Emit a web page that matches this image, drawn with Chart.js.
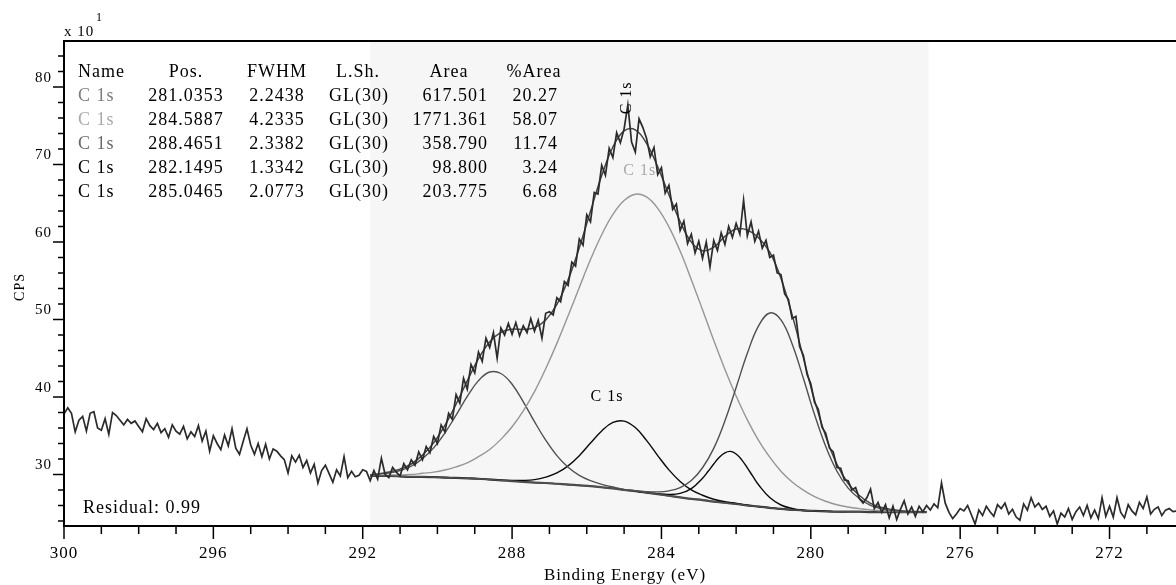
<!DOCTYPE html>
<html>
<head>
<meta charset="utf-8">
<title>C 1s XPS fit</title>
<script src="https://cdn.jsdelivr.net/npm/chart.js@4.4.1/dist/chart.umd.min.js"></script>
<style>
  html, body { margin: 0; padding: 0; background: #fff; }
  canvas { display: block; }
</style>
</head>
<body>
<canvas id="xps-chart" width="1176" height="585"></canvas>
<script>
"use strict";

// raw spectrum, 300.0 eV down to 270.2 eV in 0.1 eV steps (CPS / 10)
const rawStart = 300;
const rawStep = 0.1;
const rawCounts = [
  37.8, 38.6, 37.9, 35.5, 37.0, 37.5, 35.6, 37.9, 38.1, 36.0,
  35.7, 37.2, 35.2, 38.0, 37.6, 37.0, 36.4, 37.1, 36.6, 36.9,
  36.2, 35.5, 37.2, 36.3, 35.8, 36.6, 35.4, 35.9, 34.8, 36.4,
  35.6, 35.2, 36.2, 34.6, 35.5, 34.9, 36.3, 34.3, 35.6, 33.0,
  35.0, 34.0, 33.2, 35.1, 33.7, 35.9, 33.4, 32.6, 34.3, 35.9,
  33.8, 32.6, 34.0, 32.3, 33.9, 32.0, 33.3, 33.0, 32.4, 31.9,
  30.2, 32.4, 31.6, 32.5, 30.9, 31.8, 30.2, 31.3, 28.9, 30.5,
  31.2, 30.1, 29.0, 30.6, 29.8, 32.3, 29.6, 30.4, 29.7, 29.9,
  30.6, 30.4, 29.2, 30.5, 29.4, 32.1, 30.0, 29.6, 30.9, 30.3,
  29.8, 31.4, 30.6, 31.9, 31.2, 32.9, 31.9, 33.6, 32.8, 34.9,
  34.0, 36.4, 35.5, 37.9, 37.1, 40.3, 39.2, 42.4, 41.0, 44.2,
  43.1, 45.8, 44.6, 47.6, 46.4, 48.3, 45.0, 48.9, 48.0, 49.5,
  48.1, 49.6, 47.9, 49.2, 48.3, 50.1, 48.5, 49.9, 47.6, 50.8,
  51.0, 50.6, 52.8, 52.3, 54.9, 54.4, 57.4, 56.9, 60.4, 59.6,
  63.5, 62.6, 66.4, 66.2, 69.9, 68.6, 72.1, 70.9, 74.1, 72.8,
  74.6, 77.7, 72.9, 71.6, 75.9, 74.8, 73.4, 71.0, 72.2, 68.7,
  69.6, 66.3, 67.3, 64.2, 64.9, 61.5, 62.7, 59.8, 61.0, 58.6,
  60.1, 57.9, 60.0, 56.8, 60.2, 58.9, 61.2, 59.7, 62.0, 60.6,
  62.4, 61.0, 65.4, 60.8, 62.6, 60.1, 61.4, 59.2, 60.2, 58.0,
  58.3, 56.0, 55.8, 53.3, 52.6, 50.1, 50.4, 46.5, 45.4, 42.9,
  41.7, 39.3, 38.4, 36.1, 35.3, 33.4, 32.9, 30.9, 30.8, 29.3,
  29.2, 28.0, 28.3, 26.9, 26.3, 27.0, 28.1, 25.6, 26.4, 25.1,
  26.1, 24.4, 25.9, 24.2, 25.5, 26.6, 24.9, 25.8, 24.6, 25.9,
  25.2, 26.0, 25.4, 26.2, 25.7, 28.9, 26.3, 25.1, 24.3, 24.9,
  25.6, 25.3, 26.0, 24.8, 23.6, 25.4, 24.7, 25.9, 25.2, 24.6,
  26.1, 25.6, 26.3, 24.9, 25.5, 24.5, 24.1, 26.2, 25.4, 27.0,
  25.8, 26.3, 25.5, 25.9, 24.6, 25.3, 23.6, 25.0, 24.5, 25.6,
  24.2, 25.2, 25.8, 24.7, 26.0, 24.4, 25.4, 24.3, 27.0, 24.6,
  25.9, 24.5, 27.0, 25.1, 24.4, 26.1, 25.3, 24.8, 26.4, 25.6,
  27.1, 24.9, 25.5, 25.8, 24.7, 25.4, 25.6, 25.2, 25.3
];

// fit region
const fitEnergy = [
  291.8, 291.6, 291.3, 291.0, 290.7, 290.4, 290.1, 289.8, 289.5, 289.2,
  288.9, 288.6, 288.3, 288.0, 287.7, 287.4, 287.1, 286.8, 286.5, 286.2,
  285.9, 285.6, 285.3, 285.0, 284.7, 284.4, 284.1, 283.8, 283.5, 283.2,
  282.9, 282.6, 282.3, 282.0, 281.7, 281.4, 281.1, 280.8, 280.5, 280.2,
  279.9, 279.6, 279.3, 279.0, 278.7, 278.4, 278.1, 277.8, 277.5, 277.2,
  276.9
];
const background = [
  29.8, 29.8, 29.8, 29.75, 29.7, 29.7, 29.65, 29.6, 29.55, 29.5,
  29.45, 29.35, 29.25, 29.15, 29.05, 28.95, 28.9, 28.8, 28.7, 28.6,
  28.5, 28.35, 28.2, 28.0, 27.85, 27.65, 27.45, 27.25, 27.05, 26.85,
  26.7, 26.5, 26.35, 26.2, 26.0, 25.85, 25.7, 25.55, 25.45, 25.35,
  25.3, 25.25, 25.2, 25.2, 25.2, 25.15, 25.15, 25.15, 25.15, 25.15,
  25.15
];
const envelope = [
  29.96, 30.07, 30.31, 30.69, 31.35, 32.5, 34.08, 36.33, 39.08, 42.08,
  44.95, 47.1, 48.34, 48.74, 48.73, 48.94, 49.93, 51.94, 55.11, 59.26,
  63.98, 68.57, 72.26, 74.34, 74.47, 72.73, 69.7, 66.11, 62.64, 59.98,
  58.87, 59.33, 60.72, 61.67, 61.54, 60.56, 58.69, 55.33, 50.6, 45.08,
  39.57, 34.9, 31.31, 28.84, 27.28, 26.28, 25.73, 25.44, 25.29, 25.22,
  25.18
];
// C 1s 281.0353
const peak1 = [
  29.8, 29.8, 29.8, 29.75, 29.7, 29.7, 29.65, 29.6, 29.55, 29.5,
  29.45, 29.35, 29.25, 29.15, 29.05, 28.95, 28.9, 28.8, 28.7, 28.6,
  28.5, 28.35, 28.21, 28.02, 27.91, 27.78, 27.75, 27.89, 28.3, 29.21,
  30.87, 33.37, 36.92, 41.23, 45.63, 49.17, 50.84, 49.95, 46.85, 42.41,
  37.73, 33.61, 30.42, 28.24, 26.89, 26.02, 25.56, 25.34, 25.23, 25.18,
  25.16
];
// C 1s 284.5887
const peak2 = [
  29.85, 29.87, 29.92, 29.93, 29.99, 30.15, 30.3, 30.58, 30.98, 31.51,
  32.29, 33.22, 34.53, 36.16, 38.22, 40.7, 43.65, 46.92, 50.47, 54.14,
  57.73, 60.94, 63.56, 65.35, 66.17, 65.83, 64.35, 61.96, 58.83, 55.14,
  51.26, 47.31, 43.56, 40.13, 37.04, 34.41, 32.23, 30.42, 29.03, 27.97,
  27.13, 26.54, 26.09, 25.8, 25.59, 25.41, 25.32, 25.25, 25.21, 25.19,
  25.17
];
// C 1s 288.4651
const peak3 = [
  29.91, 30.0, 30.19, 30.51, 31.06, 32.05, 33.43, 35.35, 37.65, 40.07,
  42.11, 43.22, 43.03, 41.65, 39.38, 36.81, 34.43, 32.43, 30.93, 29.89,
  29.2, 28.72, 28.38, 28.08, 27.89, 27.66, 27.46, 27.25, 27.05, 26.85,
  26.7, 26.5, 26.35, 26.2, 26.0, 25.85, 25.7, 25.55, 25.45, 25.35,
  25.3, 25.25, 25.2, 25.2, 25.2, 25.15, 25.15, 25.15, 25.15, 25.15,
  25.15
];
// C 1s 285.0465
const peak5 = [
  29.8, 29.8, 29.8, 29.75, 29.7, 29.7, 29.65, 29.6, 29.55, 29.5,
  29.46, 29.36, 29.28, 29.23, 29.23, 29.33, 29.65, 30.19, 31.11, 32.43,
  34.05, 35.61, 36.71, 36.89, 36.05, 34.4, 32.44, 30.59, 29.1, 28.01,
  27.32, 26.8, 26.49, 26.26, 26.02, 25.86, 25.7, 25.55, 25.45, 25.35,
  25.3, 25.25, 25.2, 25.2, 25.2, 25.15, 25.15, 25.15, 25.15, 25.15,
  25.15
];
// C 1s 282.1495 (narrow, own sampling)
const peak4Energy = [
  284.7, 284.4, 284.1, 283.8, 283.5, 283.2, 282.9, 282.75, 282.6, 282.45,
  282.3, 282.15, 282.0, 281.85, 281.7, 281.55, 281.4, 281.1, 280.8, 280.5,
  280.2, 279.9, 279.6
];
const peak4 = [
  27.85, 27.66, 27.5, 27.42, 27.56, 28.17, 29.52, 30.41, 31.35, 32.22,
  32.8, 32.98, 32.65, 31.89, 30.85, 29.74, 28.67, 27.02, 26.06, 25.62,
  25.4, 25.31, 25.25
];

const regionStart = 291.8;
const regionEnd = 276.85;

const xMajorTicks = [300, 296, 292, 288, 284, 280, 276, 272];
const yMajorTicks = [30, 40, 50, 60, 70, 80];

const tableHeader = ['Name', 'Pos.', 'FWHM', 'L.Sh.', 'Area', '%Area'];
const tableRows = [
  ['C 1s', '281.0353', '2.2438', 'GL(30)', '617.501', '20.27'],
  ['C 1s', '284.5887', '4.2335', 'GL(30)', '1771.361', '58.07'],
  ['C 1s', '288.4651', '2.3382', 'GL(30)', '358.790', '11.74'],
  ['C 1s', '282.1495', '1.3342', 'GL(30)', '98.800', '3.24'],
  ['C 1s', '285.0465', '2.0773', 'GL(30)', '203.775', '6.68']
];
const rowNameColors = ['#7d7d7d', '#a9a9a9', '#6a6a6a', '#000000', '#000000'];

const peakLabels = [
  { text: 'C 1s', x: 284.93, y: 78.6, rotate: true, color: '#000000' },
  { text: 'C 1s', x: 284.58, y: 69.2, rotate: false, color: '#a9a9a9' },
  { text: 'C 1s', x: 285.46, y: 40.0, rotate: false, color: '#000000' }
];

const SERIF = '"Liberation Serif", "Times New Roman", serif';

const rawEnergy = rawCounts.map((_, i) => +(rawStart - i * rawStep).toFixed(1));
const toPoints = (xs, ys) => ys.map((y, i) => ({ x: xs[i], y }));

function curve(label, xs, ys, color, width, tension) {
  return {
    label,
    data: toPoints(xs, ys),
    borderColor: color,
    borderWidth: width,
    pointRadius: 0,
    tension,
    fill: false
  };
}

const decor = {
  id: 'decor',
  beforeDraw(chart) {
    chart.ctx.letterSpacing = '1px';
  },
  beforeDatasetsDraw(chart) {
    const { ctx, chartArea: a, scales: { x } } = chart;
    const x0 = x.getPixelForValue(regionStart);
    const x1 = x.getPixelForValue(regionEnd);
    ctx.save();
    ctx.fillStyle = '#f6f6f6';
    ctx.fillRect(x0, a.top, x1 - x0, a.bottom - a.top);
    ctx.restore();
  },
  afterDraw(chart) {
    const { ctx, chartArea: a, scales: { x, y } } = chart;
    ctx.save();
    ctx.strokeStyle = '#000';
    ctx.lineWidth = 2;
    ctx.beginPath();
    ctx.moveTo(a.right, a.top);
    ctx.lineTo(a.left, a.top);
    ctx.lineTo(a.left, a.bottom);
    ctx.lineTo(a.right, a.bottom);
    ctx.stroke();

    ctx.lineWidth = 1.5;
    ctx.beginPath();
    for (let e = 300; e >= 271; e--) {
      const px = x.getPixelForValue(e);
      const len = xMajorTicks.includes(e) ? 13 : 8;
      ctx.moveTo(px, a.bottom);
      ctx.lineTo(px, a.bottom + len);
    }
    for (let v = 24; v <= 84; v += 2) {
      const py = y.getPixelForValue(v);
      const len = yMajorTicks.includes(v) ? 11 : 6;
      ctx.moveTo(a.left, py);
      ctx.lineTo(a.left - len, py);
    }
    ctx.stroke();

    ctx.fillStyle = '#000';
    ctx.textBaseline = 'middle';

    // unit + axis titles
    ctx.textAlign = 'left';
    ctx.font = '15px ' + SERIF;
    ctx.fillText('x 10', 64, 32);
    ctx.font = '12px ' + SERIF;
    ctx.fillText('1', 96, 18);

    ctx.font = '17px ' + SERIF;
    ctx.textAlign = 'center';
    ctx.fillText('Binding Energy (eV)', 625, 576);

    ctx.save();
    ctx.translate(20, 287);
    ctx.rotate(-Math.PI / 2);
    ctx.font = '14px ' + SERIF;
    ctx.fillText('CPS', 0, 0);
    ctx.restore();

    // residual
    ctx.textAlign = 'left';
    ctx.font = '18px ' + SERIF;
    ctx.fillText('Residual: 0.99', 83, 508);

    // component table
    const rowY = [72, 96, 120, 144, 168, 192];
    ctx.font = '18px ' + SERIF;
    ctx.textAlign = 'left';
    ctx.fillText(tableHeader[0], 78, rowY[0]);
    ctx.textAlign = 'center';
    ctx.fillText(tableHeader[1], 186, rowY[0]);
    ctx.fillText(tableHeader[2], 277, rowY[0]);
    ctx.fillText(tableHeader[3], 358, rowY[0]);
    ctx.fillText(tableHeader[4], 449, rowY[0]);
    ctx.fillText(tableHeader[5], 534, rowY[0]);
    tableRows.forEach((row, i) => {
      const ry = rowY[i + 1];
      ctx.textAlign = 'left';
      ctx.fillStyle = rowNameColors[i];
      ctx.fillText(row[0], 78, ry);
      ctx.fillStyle = '#000';
      ctx.textAlign = 'center';
      ctx.fillText(row[1], 186, ry);
      ctx.fillText(row[2], 277, ry);
      ctx.fillText(row[3], 359, ry);
      ctx.textAlign = 'right';
      ctx.fillText(row[4], 488, ry);
      ctx.fillText(row[5], 558, ry);
    });

    // peak labels
    ctx.font = '16px ' + SERIF;
    ctx.textAlign = 'center';
    peakLabels.forEach(l => {
      ctx.save();
      ctx.fillStyle = l.color;
      ctx.translate(x.getPixelForValue(l.x), y.getPixelForValue(l.y));
      if (l.rotate) ctx.rotate(-Math.PI / 2);
      ctx.fillText(l.text, 0, 0);
      ctx.restore();
    });
    ctx.restore();
  }
};

new Chart(document.getElementById('xps-chart'), {
  type: 'line',
  data: {
    datasets: [
      curve('Raw', rawEnergy, rawCounts, '#2b2b2b', 1.7, 0),
      curve('Envelope', fitEnergy, envelope, '#454545', 1.5, 0.4),
      curve('C 1s 281.0353', fitEnergy, peak1, '#505050', 1.4, 0.4),
      curve('C 1s 284.5887', fitEnergy, peak2, '#969696', 1.4, 0.4),
      curve('C 1s 288.4651', fitEnergy, peak3, '#505050', 1.4, 0.4),
      curve('C 1s 282.1495', peak4Energy, peak4, '#0a0a0a', 1.4, 0.4),
      curve('C 1s 285.0465', fitEnergy, peak5, '#0a0a0a', 1.4, 0.4),
      curve('Background', fitEnergy, background, '#454545', 2.2, 0.3)
    ]
  },
  options: {
    responsive: false,
    animation: false,
    devicePixelRatio: 1,
    layout: { padding: { top: 41, left: 0, right: 0, bottom: 0 } },
    plugins: {
      legend: { display: false },
      tooltip: { enabled: false }
    },
    scales: {
      x: {
        type: 'linear',
        reverse: true,
        min: 270.22,
        max: 300,
        grid: { display: false, drawTicks: false },
        border: { display: false },
        afterBuildTicks: s => { s.ticks = xMajorTicks.map(value => ({ value })); },
        afterFit: s => { s.height = 59; },
        ticks: {
          autoSkip: false,
          maxRotation: 0,
          padding: 17,
          color: '#000',
          font: { family: SERIF, size: 17 }
        }
      },
      y: {
        min: 23.35,
        max: 85.94,
        grid: { display: false, drawTicks: false },
        border: { display: false },
        afterBuildTicks: s => { s.ticks = yMajorTicks.map(value => ({ value })); },
        afterFit: s => { s.width = 64; },
        ticks: {
          padding: 12,
          labelOffset: -9,
          color: '#000',
          font: { family: SERIF, size: 15 }
        }
      }
    }
  },
  plugins: [decor]
});
</script>
</body>
</html>
